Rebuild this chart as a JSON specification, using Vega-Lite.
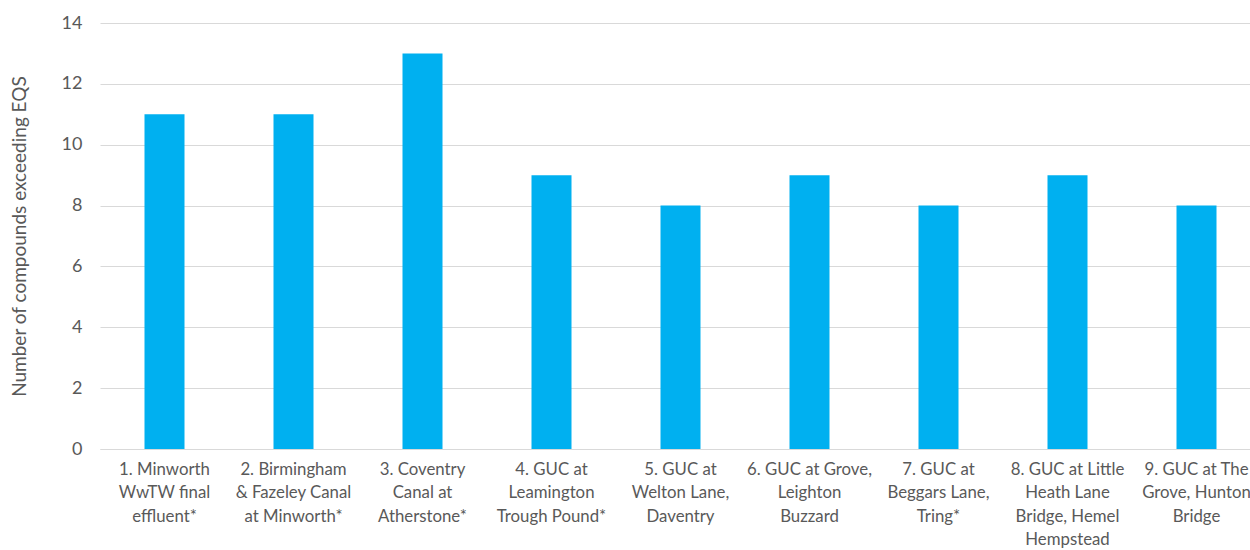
{
  "$schema": "https://vega.github.io/schema/vega-lite/v6.json",
  "autosize": {"type": "none"},
  "padding": {"left": 100, "top": 23, "right": 0, "bottom": 101},
  "width": 1161,
  "height": 426,
  "background": "white",
  "data": {"values": [
    {"site": "1. Minworth|WwTW final|effluent*", "count": 11},
    {"site": "2. Birmingham|& Fazeley Canal|at Minworth*", "count": 11},
    {"site": "3. Coventry|Canal at|Atherstone*", "count": 13},
    {"site": "4. GUC at|Leamington|Trough Pound*", "count": 9},
    {"site": "5. GUC at|Welton Lane,|Daventry", "count": 8},
    {"site": "6. GUC at Grove,|Leighton|Buzzard", "count": 9},
    {"site": "7. GUC at|Beggars Lane,|Tring*", "count": 8},
    {"site": "8. GUC at Little|Heath Lane|Bridge, Hemel|Hempstead", "count": 9},
    {"site": "9. GUC at The|Grove, Hunton|Bridge", "count": 8}
  ]},
  "mark": {"type": "bar", "color": "#00B0F0", "size": 40},
  "encoding": {
    "x": {
      "field": "site", "type": "nominal", "sort": null,
      "scale": {"paddingInner": 0, "paddingOuter": 0},
      "axis": {
        "title": null, "labelAngle": 0, "ticks": false,
        "domain": true, "domainColor": "#D9D9D9",
        "labelExpr": "split(datum.label, '|')",
        "labelFont": "Lato", "labelFontSize": 16.8, "labelColor": "#595959",
        "labelLineHeight": 23.5, "labelPadding": 12, "labelLimit": 200
      }
    },
    "y": {
      "field": "count", "type": "quantitative",
      "scale": {"domain": [0, 14]},
      "axis": {
        "values": [0, 2, 4, 6, 8, 10, 12, 14],
        "title": "Number of compounds exceeding EQS",
        "titleFont": "Lato", "titleFontSize": 19, "titleFontWeight": "normal",
        "titleColor": "#595959", "titlePadding": 32,
        "labelFont": "Lato", "labelFontSize": 18, "labelColor": "#595959",
        "labelPadding": 18,
        "domain": false, "ticks": false,
        "grid": true, "gridColor": "#D9D9D9", "gridWidth": 1
      }
    }
  },
  "config": {"view": {"stroke": null}}
}
